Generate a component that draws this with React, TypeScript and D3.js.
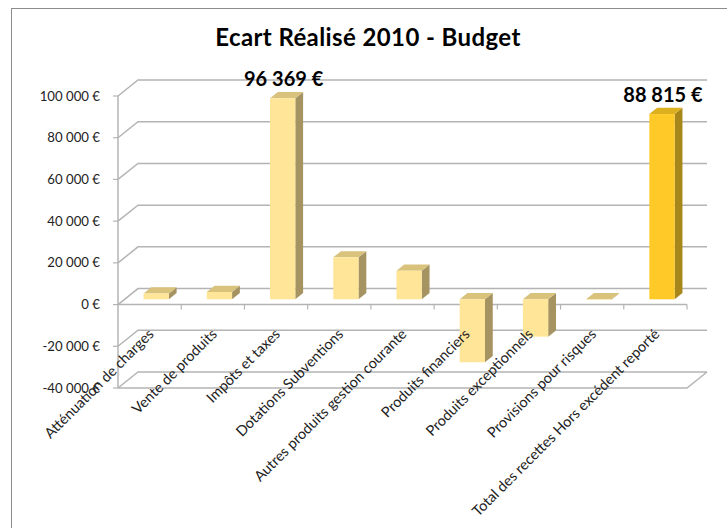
import React from "react";
import * as d3 from "d3";

const categories = [
  "Atténuation de charges",
  "Vente de produits",
  "Impôts et taxes",
  "Dotations  Subventions",
  "Autres produits gestion courante",
  "Produits financiers",
  "Produits exceptionnels",
  "Provisions pour risques",
  "Total des recettes Hors excédent reporté",
];
const values = [2800, 3500, 96369, 20100, 13700, -30200, -17900, -200, 88815];
const labelledCategories = ["Impôts et taxes", "Total des recettes Hors excédent reporté"];
const highlightedCategories = ["Total des recettes Hors excédent reporté"];
const yTicks = [-40000, -20000, 0, 20000, 40000, 60000, 80000, 100000];
const title = "Ecart Réalisé 2010 - Budget";

const W = 727;
const H = 528;
const FONT = "Lato, 'Open Sans', sans-serif";

function fmt(v: number) {
  const s = Math.abs(Math.round(v))
    .toString()
    .replace(/\B(?=(\d{3})+(?!\d))/g, " ");
  return (v < 0 ? "-" : "") + s + " €";
}

export default function App() {
  const x = d3.scaleBand<string>().domain(categories).range([118, 687]).padding(0);
  const y = d3.scaleLinear().domain([-40000, 100000]).range([388, 96]);
  const DX = 20;
  const DY = -16;
  const left = 118;
  const right = 687;
  const bw = x.bandwidth() * 0.4;
  const t0 = 0.33;
  const t1 = 0.72;

  const pale = { front: "#FFE597", top: "#D9C27C", side: "#A69362" };
  const gold = { front: "#FFCA28", top: "#DDB020", side: "#A7861A" };

  const grid = "#B4B4B4";

  return (
    <svg
      width={W}
      height={H}
      style={{ position: "absolute", left: 0, top: 0, background: "#fff" }}
      fontFamily={FONT}
    >
      <rect x={11.5} y={8.5} width={W + 20} height={H + 20} fill="#fff" stroke="#8c8c8c" strokeWidth={1} />
      <text x={368} y={46} textAnchor="middle" fontSize={24} fontWeight="bold" letterSpacing={0.4} fill="#000">
        {title}
      </text>

      {/* back wall gridlines & side wall diagonals */}
      {yTicks.map((t) => (
        <g key={"g" + t}>
          <polyline
            points={`${left},${y(t)} ${left + DX},${y(t) + DY} ${right + DX},${y(t) + DY}`}
            fill="none"
            stroke={grid}
            strokeWidth={1.5}
          />
          <line x1={left - 5} x2={left} y1={y(t)} y2={y(t)} stroke={grid} strokeWidth={1.2} />
          <text x={100} y={y(t)} dy="0.35em" textAnchor="end" fontSize={13.2} fill="#222">
            {fmt(t)}
          </text>
        </g>
      ))}
      {/* floor */}
      <polyline
        points={`${left},${y(-40000)} ${right},${y(-40000)} ${right + DX},${y(-40000) + DY}`}
        fill="none"
        stroke={grid}
        strokeWidth={1.5}
      />
      {/* vertical axis */}
      <line x1={left} x2={left} y1={y(100000)} y2={y(-40000)} stroke={grid} strokeWidth={1.5} />
      {/* category axis at 0 */}
      <line x1={left} x2={right} y1={y(0)} y2={y(0)} stroke={grid} strokeWidth={1.5} />
      {categories.map((c) => (
        <line
          key={"tk" + c}
          x1={(x(c) as number) + x.bandwidth()}
          x2={(x(c) as number) + x.bandwidth()}
          y1={y(0)}
          y2={y(0) + 5}
          stroke={grid}
          strokeWidth={1.2}
        />
      ))}

      {/* bars */}
      {categories.map((c, i) => {
        const v = values[i];
        const col = highlightedCategories.includes(c) ? gold : pale;
        const cx = (x(c) as number) + x.bandwidth() / 2 + DX * t0;
        const x0 = cx - bw / 2;
        const x1 = cx + bw / 2;
        const oy = DY * t0;
        const yTop = y(Math.max(v, 0)) + oy;
        const yBot = y(Math.min(v, 0)) + oy;
        const ddx = DX * (t1 - t0);
        const ddy = DY * (t1 - t0);
        return (
          <g key={"b" + c}>
            <polygon
              points={`${x1},${yTop} ${x1 + ddx},${yTop + ddy} ${x1 + ddx},${yBot + ddy} ${x1},${yBot}`}
              fill={col.side}
            />
            <polygon
              points={`${x0},${yTop} ${x0 + ddx},${yTop + ddy} ${x1 + ddx},${yTop + ddy} ${x1},${yTop}`}
              fill={col.top}
            />
            <rect x={x0} y={yTop} width={bw} height={Math.max(0, yBot - yTop)} fill={col.front} />
            {labelledCategories.includes(c) && (
              <text x={cx + 1} y={yTop - 12.5} textAnchor="middle" fontSize={20} fontWeight="bold" fill="#000">
                {fmt(v)}
              </text>
            )}
          </g>
        );
      })}

      {/* category labels */}
      {categories.map((c) => {
        const ax = (x(c) as number) + x.bandwidth() / 2 + 5;
        const ay = 335;
        return (
          <text
            key={"l" + c}
            x={ax}
            y={ay}
            textAnchor="end"
            fontSize={14.5}
            fill="#222"
            transform={`rotate(-45 ${ax} ${ay})`}
          >
            {c}
          </text>
        );
      })}
    </svg>
  );
}
